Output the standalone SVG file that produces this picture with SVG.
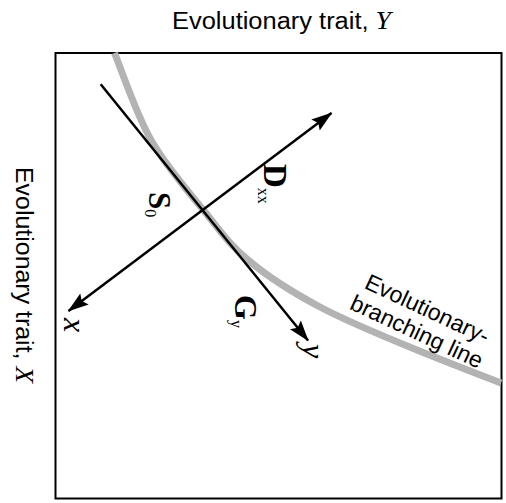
<svg xmlns="http://www.w3.org/2000/svg" width="506" height="503" viewBox="0 0 506 503">
<style>
.lbl{font-family:"Liberation Sans",Arial,sans-serif;font-size:23px;fill:#000}
.math{font-family:"Liberation Serif","Times New Roman",serif;fill:#000}
.axis{stroke:#000;stroke-width:2.5;fill:none}
</style>
<defs>
<marker id="ah" markerUnits="userSpaceOnUse" markerWidth="26" markerHeight="18" viewBox="-22 -9 26 18" refX="0" refY="0" orient="auto-start-reverse">
<path d="M1,0 L-20,-7 L-16.5,0 L-20,7 Z" fill="#000"/>
</marker>
</defs>
<rect x="55.5" y="53" width="446" height="445.5" fill="#fff" stroke="#000" stroke-width="2"/>
<g id="branching-line">
<path d="M114.5,53 C121.2,69 135.9,113.5 151,140 C166.1,166.5 188.8,192 205,212 C221.2,232 228.8,243.8 248,260 C267.2,276.2 291.8,292 320,307 C348.2,322 386.8,337.7 417,350 C447.2,362.3 485.5,377 501,383" fill="none" stroke="#b3b3b3" stroke-width="7"/>
</g>
<g id="connectors">
<line class="axis" x1="100.7" y1="84.3" x2="308" y2="340.5" marker-end="url(#ah)"/>
<line class="axis" x1="68.5" y1="311" x2="331.5" y2="113" marker-start="url(#ah)" marker-end="url(#ah)"/>
</g>
<g id="title-y"><text class="lbl" x="172" y="29" textLength="219" lengthAdjust="spacingAndGlyphs">Evolutionary trait, <tspan class="math" font-style="italic" font-size="25">Y</tspan></text></g>
<g id="title-x"><text class="lbl" transform="translate(15.5,167) rotate(90)" textLength="216" lengthAdjust="spacingAndGlyphs">Evolutionary trait, <tspan class="math" font-style="italic" font-size="25">X</tspan></text></g>
<g id="label-D"><text class="math" transform="translate(264,164) rotate(90)" font-size="33" font-weight="bold">D<tspan font-size="16" font-weight="normal" dy="6">xx</tspan></text></g>
<g id="label-S0"><text class="math" transform="translate(149,192) rotate(90)" font-size="31" font-weight="bold">S<tspan font-size="16" font-weight="normal" dy="4">0</tspan></text></g>
<g id="label-G"><text class="math" transform="translate(235,295) rotate(90)" font-size="32" font-weight="bold">G<tspan font-size="16" font-weight="normal" dy="4">y</tspan></text></g>
<g id="label-x"><text class="math" transform="translate(64,318) rotate(90)" font-size="32" font-style="italic">x</text></g>
<g id="label-y"><text class="math" transform="translate(303,344) rotate(90)" font-size="32" font-style="italic">y</text></g>
<g id="label-branch"><text class="lbl" transform="translate(424,316) rotate(25)" text-anchor="middle"><tspan x="0" y="0">Evolutionary-</tspan><tspan x="0" y="25">branching line</tspan></text></g>
</svg>
